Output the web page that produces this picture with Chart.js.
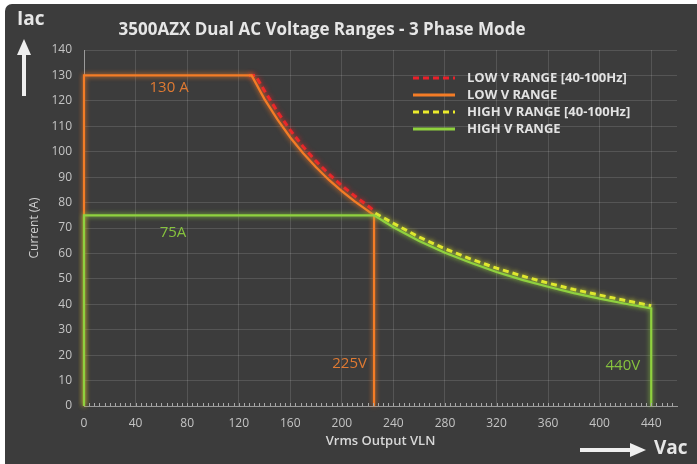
<!DOCTYPE html>
<html>
<head>
<meta charset="utf-8">
<script src="https://cdn.jsdelivr.net/npm/chart.js@4.4.1/dist/chart.umd.min.js"></script>
<style>
	html, body { margin: 0; padding: 0; background: #fff; }
	#wrap { width: 697px; height: 464px; }
</style>
</head>
<body>
<div id="wrap"><canvas id="chart" width="697" height="464"></canvas></div>
<script>
// Values.
var chartTitle = '3500AZX Dual AC Voltage Ranges - 3 Phase Mode';
var xTitle = 'Vrms Output VLN';
var yTitle = 'Current (A)';

var seriesLabels = [
	'LOW V RANGE [40-100Hz]',
	'LOW V RANGE',
	'HIGH V RANGE [40-100Hz]',
	'HIGH V RANGE'
];

// LOW V RANGE (solid orange)
var lowX = [0, 0, 130, 140, 150, 160, 170, 180, 190, 200, 210, 220, 225, 225];
var lowY = [0, 130, 130, 120.7, 112.7, 105.6, 99.4, 93.9, 88.9, 84.5, 80.5, 76.8, 75, 0];

// LOW V RANGE [40-100Hz] (dashed red)
var lowHzX = [128, 133, 140, 150, 160, 170, 180, 190, 200, 210, 220, 225];
var lowHzY = [130, 130, 124, 115.8, 108.5, 102, 96.3, 91.2, 86.7, 82.6, 78.8, 76.8];

// HIGH V RANGE (solid green)
var highX = [0, 0, 225, 240, 260, 280, 300, 320, 340, 360, 380, 400, 420, 440, 440];
var highY = [0, 75, 75, 70.3, 64.9, 60.3, 56.3, 52.7, 49.6, 46.9, 44.4, 42.2, 40.2, 38.4, 0];

// HIGH V RANGE [40-100Hz] (dashed yellow)
var highHzX = [226, 240, 260, 280, 300, 320, 340, 360, 380, 400, 420, 440];
var highHzY = [75.8, 71.8, 66.4, 61.8, 57.8, 54.2, 51.1, 48.3, 45.8, 43.6, 41.5, 39.4];

var xTicks = [0, 40, 80, 120, 160, 200, 240, 280, 320, 360, 400, 440];

// Text notes on the plot: [text, x, y, colour]
var notes = [
	['130 A', 66, 125, '#e07a32'],
	['75A', 69, 68, '#86c23e'],
	['225V', 206, 16.8, '#e07a32'],
	['440V', 418, 15.7, '#86c23e']
];

var FONT = '"Open Sans", "Noto Sans", sans-serif';

function points(xs, ys) {
	return xs.map(function(x, i) {
		return { x: x, y: ys[i] };
	});
}

// Background panel, title, arrows and legend
var decorations = {
	id: 'decorations',
	beforeDraw: function(chart) {
		var ctx = chart.ctx;
		ctx.save();
		ctx.fillStyle = '#ffffff';
		ctx.fillRect(0, 0, chart.width, chart.height);
		ctx.fillStyle = '#3c3c3c';
		ctx.beginPath();
		ctx.roundRect(5, 4, chart.width + 10, chart.height + 10, 7);
		ctx.fill();
		ctx.restore();
	},
	afterDraw: function(chart) {
		var ctx = chart.ctx;
		var xs = chart.scales.x, ys = chart.scales.y;
		ctx.save();

		// minor ticks along the x axis
		ctx.strokeStyle = '#a8a8a8';
		ctx.lineWidth = 1;
		for (var v = 4; v < xs.max; v += 4) {
			var px = Math.round(xs.getPixelForValue(v)) + 0.5;
			ctx.beginPath();
			ctx.moveTo(px, ys.bottom);
			ctx.lineTo(px, ys.bottom - 3);
			ctx.stroke();
		}

		// title
		ctx.fillStyle = '#e6e6e6';
		ctx.font = 'bold 17px ' + FONT;
		ctx.textAlign = 'center';
		ctx.textBaseline = 'middle';
		ctx.fillText(chartTitle, 322, 30);

		// Iac and Vac
		ctx.font = 'bold 19px ' + FONT;
		ctx.textAlign = 'left';
		ctx.fillText('Iac', 17, 20);
		ctx.fillText('Vac', 654, 449);

		ctx.fillStyle = '#eeeeee';
		ctx.fillRect(22, 54, 4, 42);
		ctx.beginPath();
		ctx.moveTo(24, 39);
		ctx.lineTo(31, 55);
		ctx.lineTo(17, 55);
		ctx.closePath();
		ctx.fill();

		ctx.fillRect(580, 448, 52, 4);
		ctx.beginPath();
		ctx.moveTo(646, 450);
		ctx.lineTo(630, 443);
		ctx.lineTo(630, 457);
		ctx.closePath();
		ctx.fill();

		// notes
		ctx.font = '15px ' + FONT;
		ctx.textAlign = 'center';
		notes.forEach(function(n) {
			ctx.fillStyle = n[3];
			ctx.fillText(n[0], xs.getPixelForValue(n[1]), ys.getPixelForValue(n[2]));
		});

		// legend
		ctx.font = 'bold 13px ' + FONT;
		ctx.textAlign = 'left';
		chart.data.datasets.slice().sort(function(a, b) {
			return a.legendOrder - b.legendOrder;
		}).forEach(function(ds, i) {
			var y = 78 + i * 17;
			ctx.strokeStyle = ds.borderColor;
			ctx.lineWidth = 3;
			ctx.setLineDash(ds.borderDash || []);
			ctx.beginPath();
			ctx.moveTo(413, y);
			ctx.lineTo(455, y);
			ctx.stroke();
			ctx.setLineDash([]);
			ctx.fillStyle = '#e2e2e2';
			ctx.fillText(ds.label, 467, y);
		});
		ctx.restore();
	}
};

// soft glow around each curve
var glow = {
	id: 'glow',
	beforeDatasetDraw: function(chart, args) {
		var ctx = chart.ctx;
		ctx.save();
		ctx.shadowColor = args.meta._dataset.borderColor;
		ctx.shadowBlur = 5;
	},
	afterDatasetDraw: function(chart) {
		chart.ctx.restore();
	}
};

var lineBase = {
	showLine: true,
	fill: false,
	pointRadius: 0,
	pointHoverRadius: 0,
	tension: 0,
	clip: 6
};

new Chart(document.getElementById('chart').getContext('2d'), {
	type: 'scatter',
	data: {
		datasets: [
			Object.assign({}, lineBase, {
				label: seriesLabels[3], legendOrder: 3,
				data: points(highX, highY),
				borderColor: '#8fd13f', borderWidth: 2.2
			}),
			Object.assign({}, lineBase, {
				label: seriesLabels[2], legendOrder: 2,
				data: points(highHzX, highHzY),
				borderColor: '#ecec2c', borderWidth: 3, borderDash: [6, 4]
			}),
			Object.assign({}, lineBase, {
				label: seriesLabels[1], legendOrder: 1,
				data: points(lowX, lowY),
				borderColor: '#f47c26', borderWidth: 2.2
			}),
			Object.assign({}, lineBase, {
				label: seriesLabels[0], legendOrder: 0,
				data: points(lowHzX, lowHzY),
				borderColor: '#e8202a', borderWidth: 3, borderDash: [6, 4]
			})
		]
	},
	options: {
		responsive: false,
		animation: false,
		layout: {
			padding: { left: 6, right: 20, top: 50, bottom: 0 }
		},
		plugins: {
			legend: { display: false },
			title: { display: false },
			tooltip: { enabled: false }
		},
		scales: {
			x: {
				type: 'linear',
				min: 0,
				max: 460,
				afterBuildTicks: function(scale) {
					scale.ticks = xTicks.map(function(v) { return { value: v }; });
				},
				afterFit: function(scale) { scale.height = 58; },
				grid: { color: 'rgba(255,255,255,0.13)', drawTicks: false },
				border: { color: '#9a9a9a', width: 1 },
				ticks: {
					color: '#c4c4c4',
					font: { family: FONT, size: 12 },
					padding: 10,
					maxRotation: 0
				},
				title: {
					display: true,
					text: xTitle,
					color: '#d8d8d8',
					font: { family: FONT, size: 13, weight: '600' },
					padding: { top: 0, bottom: 15 }
				}
			},
			y: {
				min: 0,
				max: 140,
				afterFit: function(scale) { scale.width = 78; },
				grid: { color: 'rgba(255,255,255,0.13)', drawTicks: false },
				border: { color: '#9a9a9a', width: 1 },
				ticks: {
					stepSize: 10,
					color: '#c4c4c4',
					font: { family: FONT, size: 12 },
					padding: 12
				},
				title: {
					display: true,
					text: yTitle,
					color: '#d0d0d0',
					font: { family: FONT, size: 12 },
					padding: { top: 21, bottom: 0 }
				}
			}
		}
	},
	plugins: [decorations, glow]
});
</script>
</body>
</html>
